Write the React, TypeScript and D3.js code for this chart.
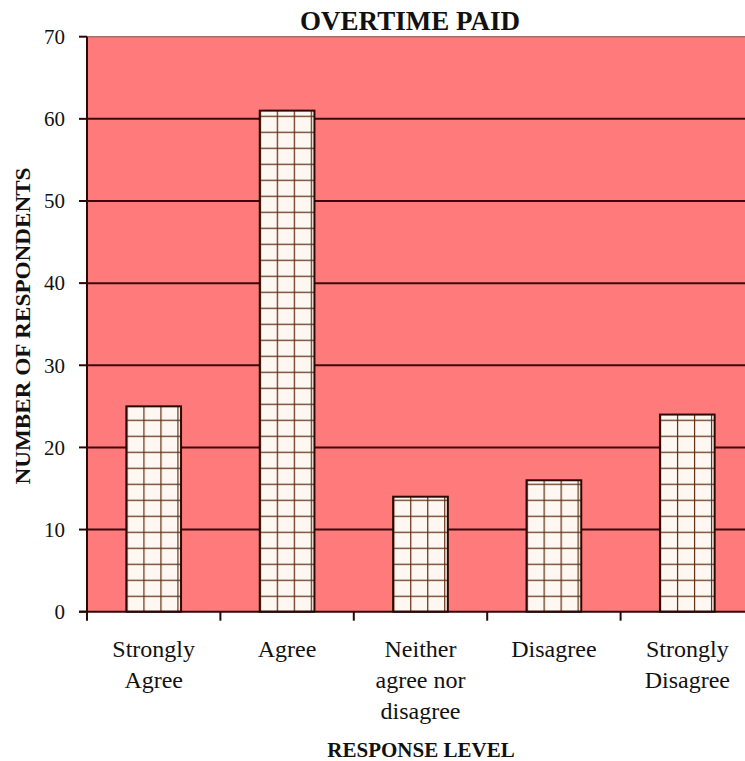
import React from "react";
import * as d3 from "d3";

const categories: string[][] = [
  ["Strongly", "Agree"],
  ["Agree"],
  ["Neither", "agree nor", "disagree"],
  ["Disagree"],
  ["Strongly", "Disagree"],
];
const values: number[] = [25, 61, 14, 16, 24];
const yTicks: number[] = [0, 10, 20, 30, 40, 50, 60, 70];
const title = "OVERTIME PAID";
const xTitle = "RESPONSE LEVEL";
const yTitle = "NUMBER OF RESPONDENTS";

const W = 745;
const H = 761;
const left = 87;
const right = 754;
const top = 36.7;
const bottom = 611.7;
const font = "'Liberation Serif', 'DejaVu Serif', serif";

export default function App() {
  const idx = categories.map((_, i) => String(i));
  const x = d3.scaleBand<string>().domain(idx).range([left, right]).paddingInner(0.59).paddingOuter(0.295);
  const band = d3.scaleBand<string>().domain(idx).range([left, right]);
  const y = d3.scaleLinear().domain([0, 70]).range([bottom, top]);
  const cellW = 17;
  const cellH = 16;

  return (
    <svg width={W} height={H} style={{ display: "block", position: "absolute", left: 0, top: 0 }}>
      <defs>
        {values.map((v, i) => (
          <pattern
            key={i}
            id={`grid${i}`}
            patternUnits="userSpaceOnUse"
            x={x(String(i))!}
            y={bottom}
            width={cellW}
            height={cellH}
          >
            <rect width={cellW} height={cellH} fill="#fff8f2" />
            <line x1={0} x2={0} y1={0} y2={cellH} stroke="#5e2c10" strokeWidth={2.4} />
            <line x1={0} x2={cellW} y1={0} y2={0} stroke="#5e2c10" strokeWidth={2.4} />
          </pattern>
        ))}
      </defs>
      <rect x={0} y={0} width={W} height={H} fill="#ffffff" />
      <rect x={left} y={top} width={right - left} height={bottom - top} fill="#ff7b7b" />
      {yTicks.filter((t) => t > 0).map((t) => (
        <line key={t} x1={left} x2={right} y1={y(t)} y2={y(t)} stroke="#3a0808" strokeWidth={t === 70 ? 1 : 2} opacity={t === 70 ? 0.6 : 1} />
      ))}
      {values.map((v, i) => (
        <rect
          key={i}
          x={x(String(i))!}
          y={y(v)}
          width={x.bandwidth()}
          height={bottom - y(v)}
          fill={`url(#grid${i})`}
          stroke="#2a0800"
          strokeWidth={2}
        />
      ))}
      <line x1={left} x2={left} y1={top} y2={bottom + 1} stroke="#2a0808" strokeWidth={2} />
      <line x1={left - 8} x2={right} y1={bottom} y2={bottom} stroke="#2a0808" strokeWidth={2} />
      {yTicks.map((t) => (
        <g key={t}>
          <line x1={left - 8} x2={left} y1={y(t)} y2={y(t)} stroke="#2a0808" strokeWidth={2} />
          <text x={65} y={y(t)} dy="0.35em" textAnchor="end" style={{ fontFamily: font }} fontSize={21} fill="#111">
            {t}
          </text>
        </g>
      ))}
      {idx.map((k) => (
        <line key={k} x1={band(k)!} x2={band(k)!} y1={bottom} y2={bottom + 9} stroke="#2a0808" strokeWidth={2} />
      ))}
      {categories.map((lines, i) => (
        <text key={i} textAnchor="middle" style={{ fontFamily: font }} fontSize={24} fill="#111">
          {lines.map((ln, j) => (
            <tspan key={j} x={band(String(i))! + band.bandwidth() / 2} y={657 + j * 31}>
              {ln}
            </tspan>
          ))}
        </text>
      ))}
      <text x={421} y={757} textAnchor="middle" style={{ fontFamily: font }} fontWeight="bold" fontSize={21} fill="#111">
        {xTitle}
      </text>
      <text x={410} y={30} textAnchor="middle" style={{ fontFamily: font }} fontWeight="bold" fontSize={27} fill="#111">
        {title}
      </text>
      <text
        transform={`translate(30,326) rotate(-90)`}
        textAnchor="middle"
        style={{ fontFamily: font }}
        fontWeight="bold"
        fontSize={21}
        fill="#111"
        textLength={317}
        lengthAdjust="spacingAndGlyphs"
      >
        {yTitle}
      </text>
    </svg>
  );
}
